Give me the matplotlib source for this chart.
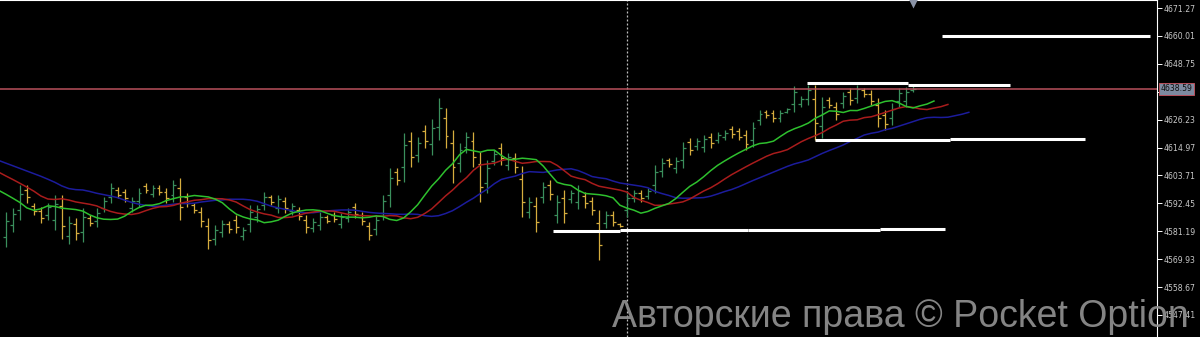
import numpy as np
import matplotlib.pyplot as plt
from matplotlib.transforms import blended_transform_factory

# --- OHLC data (one bar per period) ---
highs = [4588.9, 4590.5, 4599.8, 4599.8, 4592.6, 4591.0, 4592.6, 4595.8, 4595.8, 4587.3,
         4586.5, 4590.5, 4587.7, 4590.5, 4595.0, 4600.6, 4599.0, 4598.2, 4595.0, 4598.6,
         4600.6, 4599.8, 4599.8, 4598.6, 4601.9, 4602.7, 4596.6, 4592.6, 4591.0, 4586.5,
         4583.7, 4585.7, 4585.3, 4587.7, 4582.9, 4591.8, 4591.8, 4597.0, 4595.8, 4595.8,
         4595.0, 4592.6, 4591.0, 4587.7, 4586.5, 4588.9, 4587.7, 4588.9, 4588.5, 4590.5,
         4592.6, 4588.9, 4584.9, 4587.7, 4595.8, 4606.7, 4606.7, 4620.8, 4621.2, 4619.2,
         4624.1, 4626.5, 4635.0, 4630.9, 4622.0, 4616.8, 4621.2, 4621.2, 4613.2, 4609.9,
         4614.0, 4616.8, 4612.8, 4612.8, 4607.5, 4595.0, 4595.0, 4601.0, 4601.9, 4595.8,
         4597.8, 4597.8, 4599.8, 4597.0, 4595.0, 4589.7, 4589.3, 4589.3, 4584.5, 4597.0,
         4597.8, 4597.8, 4598.6, 4607.9, 4610.7, 4610.7, 4611.1, 4617.2, 4618.8, 4618.8,
         4620.0, 4620.8, 4621.2, 4622.0, 4623.7, 4622.8, 4622.0, 4625.3, 4630.1, 4630.1,
         4630.1, 4630.1, 4630.9, 4639.8, 4635.8, 4640.2, 4640.2, 4635.4, 4635.4, 4633.3,
         4637.4, 4639.0, 4640.2, 4639.0, 4638.2, 4635.0, 4630.1, 4632.9, 4639.0, 4639.4,
         4639.8]
lows = [4574.8, 4580.9, 4585.7, 4592.6, 4587.7, 4584.5, 4585.7, 4581.7, 4578.0, 4576.0,
        4577.6, 4576.8, 4583.3, 4582.9, 4588.9, 4592.6, 4594.6, 4593.0, 4588.9, 4591.0,
        4596.6, 4595.0, 4595.8, 4592.6, 4593.0, 4585.7, 4591.0, 4588.5, 4582.9, 4574.0,
        4575.6, 4578.9, 4580.5, 4580.5, 4577.6, 4580.9, 4584.9, 4589.7, 4591.8, 4588.5,
        4588.5, 4587.7, 4585.7, 4580.5, 4580.9, 4581.7, 4584.5, 4584.9, 4582.5, 4584.9,
        4586.5, 4583.7, 4577.6, 4579.7, 4585.7, 4591.0, 4599.8, 4601.0, 4607.1, 4609.1,
        4614.8, 4611.9, 4618.0, 4614.8, 4600.6, 4605.1, 4612.8, 4607.1, 4593.0, 4596.6,
        4607.9, 4607.9, 4605.9, 4604.7, 4586.9, 4586.5, 4580.9, 4592.6, 4593.8, 4584.5,
        4584.5, 4592.6, 4590.2, 4590.5, 4587.7, 4569.6, 4582.5, 4583.3, 4582.9, 4586.9,
        4593.0, 4593.0, 4594.2, 4596.6, 4603.1, 4607.1, 4604.7, 4606.7, 4611.9, 4614.0,
        4613.2, 4614.8, 4616.8, 4618.0, 4618.8, 4618.0, 4614.0, 4615.2, 4624.1, 4626.9,
        4625.3, 4625.3, 4628.9, 4629.3, 4631.3, 4632.1, 4618.0, 4618.8, 4630.9, 4626.1,
        4630.9, 4632.1, 4632.9, 4635.4, 4632.1, 4623.2, 4622.0, 4624.1, 4631.3, 4631.3,
        4637.4]
opens = [4579.0, 4583.8, 4589.9, 4598.0, 4591.4, 4589.4, 4587.8, 4585.9, 4591.4, 4579.4,
         4584.3, 4580.9, 4586.6, 4585.2, 4590.7, 4595.0, 4597.9, 4596.9, 4590.7, 4593.3,
         4599.6, 4596.4, 4598.8, 4597.1, 4595.7, 4598.5, 4595.2, 4591.6, 4589.0, 4583.4,
         4578.0, 4580.9, 4584.1, 4585.9, 4579.2, 4584.2, 4587.0, 4591.9, 4594.8, 4590.7,
         4593.4, 4589.2, 4589.7, 4585.9, 4582.6, 4583.9, 4586.9, 4587.9, 4584.3, 4586.6,
         4591.1, 4587.6, 4583.1, 4582.1, 4588.7, 4595.7, 4605.0, 4607.0, 4617.7, 4612.1,
         4621.8, 4616.3, 4623.1, 4626.9, 4616.7, 4608.6, 4615.3, 4617.7, 4608.2, 4600.6,
         4609.7, 4614.6, 4608.0, 4610.8, 4602.4, 4589.1, 4591.5, 4595.1, 4599.9, 4587.9,
         4594.5, 4594.2, 4593.1, 4595.4, 4593.2, 4584.7, 4584.5, 4587.8, 4584.1, 4589.9,
         4594.4, 4596.6, 4595.5, 4600.0, 4605.4, 4609.8, 4606.6, 4609.9, 4617.1, 4615.4,
         4615.2, 4619.3, 4618.1, 4619.2, 4622.5, 4621.6, 4620.0, 4618.2, 4625.9, 4629.3,
         4628.9, 4626.7, 4629.5, 4632.5, 4632.7, 4634.5, 4634.6, 4623.8, 4634.3, 4631.5,
         4632.9, 4637.3, 4635.1, 4638.1, 4636.7, 4632.1, 4628.1, 4626.7, 4633.6, 4633.7,
         4638.0]
closes = [4585.4, 4588.1, 4596.3, 4594.8, 4589.2, 4586.5, 4590.9, 4592.3, 4583.3, 4584.5,
          4580.3, 4587.1, 4584.6, 4588.6, 4593.5, 4598.6, 4595.9, 4594.6, 4593.5, 4596.7,
          4597.8, 4598.6, 4597.0, 4594.4, 4599.7, 4590.8, 4592.7, 4589.7, 4585.3, 4577.8,
          4581.7, 4584.0, 4581.9, 4582.7, 4581.6, 4589.1, 4590.1, 4595.2, 4593.0, 4594.0,
          4590.5, 4591.4, 4587.3, 4582.7, 4585.1, 4587.1, 4585.5, 4586.1, 4587.0, 4589.1,
          4588.3, 4585.3, 4579.8, 4585.7, 4593.3, 4602.8, 4601.9, 4615.9, 4611.3, 4616.7,
          4617.6, 4622.9, 4630.8, 4619.6, 4607.0, 4613.9, 4619.1, 4611.3, 4599.1, 4606.6,
          4612.5, 4610.6, 4611.1, 4607.1, 4593.1, 4592.9, 4585.1, 4598.9, 4596.2, 4593.0,
          4588.5, 4596.5, 4597.4, 4592.5, 4589.9, 4575.6, 4587.6, 4585.1, 4583.4, 4594.5,
          4596.6, 4594.4, 4597.5, 4605.1, 4608.8, 4608.2, 4609.5, 4614.6, 4614.0, 4617.6,
          4618.3, 4616.6, 4620.1, 4621.0, 4620.3, 4619.4, 4616.4, 4622.8, 4628.6, 4627.9,
          4626.7, 4628.9, 4630.4, 4637.2, 4634.7, 4638.2, 4624.7, 4631.2, 4632.3, 4628.3,
          4635.8, 4634.2, 4638.4, 4636.5, 4633.9, 4626.7, 4624.4, 4630.7, 4637.1, 4637.4,
          4638.6]

# bars before the visible window (only used to warm up the alligator lines)
pre_median = [4596.0, 4595.0, 4594.0, 4593.0, 4592.0, 4590.0, 4588.0, 4586.0]
# alligator: (period, shift, seed, colour)
alligator = [(13, 8, 4609.7, '#1c1c9c'),   # jaw
             (8, 5, 4609.9, '#a81c1c'),    # teeth
             (5, 3, 4605.9, '#2ec02e')]    # lips

# white levels: price, from bar, to bar
level_price = [4660.0, 4640.9, 4640.2, 4618.0, 4618.4, 4581.2, 4581.5, 4581.8, 4582.2]
level_start = [134.2, 114.8, 129.3, 116.0, 135.3, 78.4, 88.0, 106.3, 125.3]
level_end = [164.0, 129.3, 143.9, 135.3, 154.6, 88.0, 106.3, 125.3, 134.6]

bid = 4638.59
cursor_bar = 89
tick_prices = [4671.27, 4660.01, 4648.75, 4637.49, 4626.23, 4614.97, 4603.71,
               4592.45, 4581.19, 4569.93, 4558.67, 4547.41]
tick_labels = ['4671.27', '4660.01', '4648.75', '', '4626.23', '4614.97', '4603.71',
               '4592.45', '4581.19', '4569.93', '4558.67', '4547.41']

watermark = 'Авторские права © Pocket Option'

# --- figure ---
fig = plt.figure(figsize=(12, 3.37), dpi=100, facecolor='black')
ax = fig.add_axes([0, 0, 1157 / 1200, 1])
ax.set_facecolor('black')
ax.set_xlim(-0.86, 164.97)
ax.set_ylim(4538.5, 4674.5)

idx = np.arange(len(closes))
o = np.array(opens)
c = np.array(closes)
cols = np.where(c >= o, '#3a8f5c', '#d6ad3e')

ax.vlines(idx, lows, highs, colors=cols, lw=0.9)
ax.hlines(o, idx - 0.42, idx, colors=cols, lw=0.9)
ax.hlines(c, idx, idx + 0.42, colors=cols, lw=0.9)

# alligator lines from median price
med = np.concatenate([pre_median, (np.array(highs) + np.array(lows)) / 2])
n_pre = len(pre_median)
for period, shift, seed, col in alligator:
    sm = [seed]
    for m in med:
        sm.append((sm[-1] * (period - 1) + m) / period)
    xs = np.arange(len(sm)) - n_pre - 1 + shift
    ax.plot(xs, sm, color=col, lw=1.1, zorder=3)

# levels
ax.hlines(level_price, level_start, level_end, colors='white', lw=2.2, zorder=4)

# bid line and cursor
ax.axhline(bid, color='#b8505c', lw=1.1, zorder=2)
ax.axvline(cursor_bar, color='#bdbdbd', lw=0.9, ls=(0, (1.6, 1.6)), zorder=1)

# chart shift marker
ax.plot([idx[-1]], [4673.2], marker='v', ms=7, color='#8a93a6', mec='none',
        clip_on=False, zorder=5)

# axis
for s in ['left', 'bottom']:
    ax.spines[s].set_visible(False)
ax.spines['right'].set_color('white')
ax.spines['right'].set_linewidth(0.8)
ax.spines['top'].set_color('white')
ax.spines['top'].set_linewidth(0.8)
ax.set_xticks([])
ax.yaxis.tick_right()
ax.set_yticks(tick_prices)
ax.set_yticklabels(tick_labels)
ax.tick_params(axis='y', colors='white', labelcolor='#c8c8c8', length=3.5,
               width=0.7, pad=1, labelsize=5.6)

trans = blended_transform_factory(ax.transAxes, ax.transData)
ax.text(1.003, bid, f'{bid:.2f}', transform=trans, fontsize=5.6, color='#101010',
        va='center', ha='left', clip_on=False,
        bbox=dict(boxstyle='square,pad=0.25', fc='#7d8aa0', ec='#b8505c', lw=0.7))

fig.text(0.51, 0.03, watermark, fontsize=27, color='#8c8c8c', alpha=0.95,
         family=['Liberation Sans', 'DejaVu Sans'], va='baseline', ha='left')

fig.savefig('out.png', dpi=100, facecolor='black')
